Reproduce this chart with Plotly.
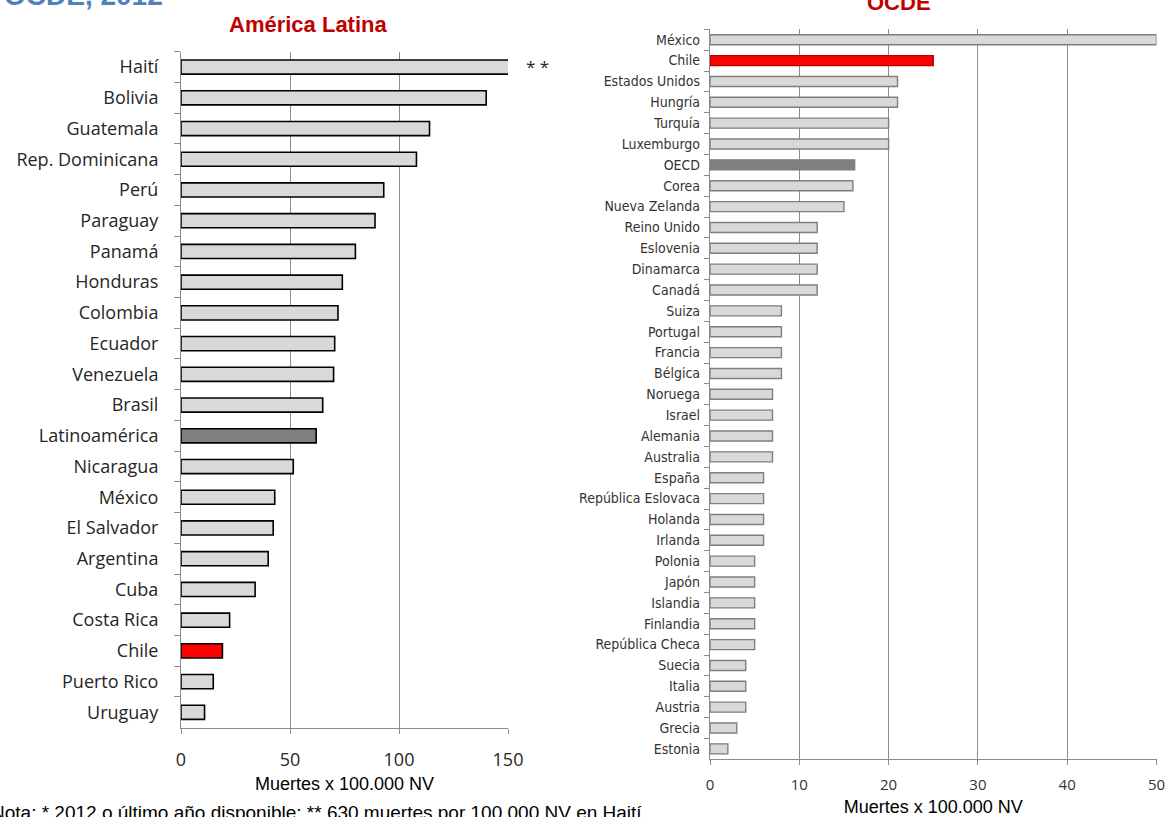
import plotly.graph_objects as go

# Latin America: deaths per 100,000 live births (top to bottom)
la_countries = ["Haití", "Bolivia", "Guatemala", "Rep. Dominicana", "Perú", "Paraguay",
                "Panamá", "Honduras", "Colombia", "Ecuador", "Venezuela", "Brasil",
                "Latinoamérica", "Nicaragua", "México", "El Salvador", "Argentina", "Cuba",
                "Costa Rica", "Chile", "Puerto Rico", "Uruguay"]
la_values = [630, 140, 114, 108, 93, 89, 80, 74, 72, 70.5, 70, 65,
             62, 51.5, 43, 42.3, 40, 34, 22.3, 19, 14.8, 10.8]

# OECD countries (top to bottom)
oecd_countries = ["México", "Chile", "Estados Unidos", "Hungría", "Turquía", "Luxemburgo",
                  "OECD", "Corea", "Nueva Zelanda", "Reino Unido", "Eslovenia", "Dinamarca",
                  "Canadá", "Suiza", "Portugal", "Francia", "Bélgica", "Noruega", "Israel",
                  "Alemania", "Australia", "España", "República Eslovaca", "Holanda", "Irlanda",
                  "Polonia", "Japón", "Islandia", "Finlandia", "República Checa", "Suecia",
                  "Italia", "Austria", "Grecia", "Estonia"]
oecd_values = [50, 25, 21, 21, 20, 20, 16.2, 16, 15, 12, 12, 12, 12, 8, 8, 8, 8, 7, 7,
               7, 7, 6, 6, 6, 6, 5, 5, 5, 5, 5, 4, 4, 4, 3, 2]

la_ticks = [0, 50, 100, 150]
oecd_ticks = [0, 10, 20, 30, 40, 50]

W, H = 1167, 817


def px(x):
    return x / W


def py(y):
    return 1 - y / H


def bar_fill(name, avg_name):
    if name == "Chile":
        return "#ff0000"
    if name == avg_name:
        return "#7f7f7f"
    return "#d9d9d9"


la_colors = [bar_fill(c, "Latinoamérica") for c in la_countries]
oecd_colors = [bar_fill(c, "OECD") for c in oecd_countries]
oecd_lines = ["#b00000" if c == "Chile" else "#7f7f7f" for c in oecd_countries]

fig = go.Figure()

fig.add_trace(go.Bar(
    x=la_values, y=la_countries, orientation="h", width=0.46,
    marker=dict(color=la_colors, line=dict(color="#000000", width=1.6)),
    xaxis="x", yaxis="y", showlegend=False, hoverinfo="x+y",
))

fig.add_trace(go.Bar(
    x=oecd_values, y=oecd_countries, orientation="h", width=0.48,
    marker=dict(color=oecd_colors, line=dict(color=oecd_lines, width=1.4)),
    xaxis="x2", yaxis="y2", showlegend=False, hoverinfo="x+y",
))

grid = "#8c8c8c"
label_font_la = dict(family="Open Sans, DejaVu Sans, sans-serif", size=18, color="#262626")
label_font_oecd = dict(family="Liberation Sans Narrow, DejaVu Sans Condensed, Roboto, sans-serif",
                       size=14, color="#333333")
title_font = dict(family="Liberation Sans, Arial, sans-serif", size=18, color="#000000")

fig.update_layout(
    width=W, height=H,
    margin=dict(l=0, r=0, t=0, b=0, autoexpand=False),
    paper_bgcolor="white", plot_bgcolor="white",
    xaxis=dict(
        domain=[px(181), px(508)], anchor="y", range=[0, 150], automargin=False,
        tickvals=la_ticks, showgrid=True, gridcolor=grid, gridwidth=1,
        zeroline=False, showline=True, linecolor=grid, linewidth=1,
        ticks="outside", ticklen=5, tickcolor=grid,
        tickfont=label_font_la, ticklabelstandoff=11,
        title=dict(text="Muertes x 100.000 NV", font=title_font, standoff=7),
    ),
    yaxis=dict(
        domain=[py(727.7), py(51.7)], anchor="x", autorange="reversed", automargin=False,
        type="category", showline=True, linecolor=grid, linewidth=1,
        ticks="outside", ticklen=6, tickcolor=grid, tickson="boundaries",
        tickfont=label_font_la, ticklabelstandoff=18, showgrid=False,
    ),
    xaxis2=dict(
        domain=[px(710), px(1156.5)], anchor="y2", range=[0, 50], automargin=False,
        tickvals=oecd_ticks, showgrid=True, gridcolor=grid, gridwidth=1.3,
        zeroline=False, showline=True, linecolor=grid, linewidth=1.3,
        ticks="outside", ticklen=5, tickcolor=grid, ticklabeloverflow="allow",
        tickfont=dict(family="Open Sans, DejaVu Sans, sans-serif", size=15, color="#333333"),
        ticklabelstandoff=7,
        title=dict(text="Muertes x 100.000 NV", font=title_font, standoff=9),
    ),
    yaxis2=dict(
        domain=[py(759.3), py(29.3)], anchor="x2", autorange="reversed", automargin=False,
        type="category", showline=True, linecolor=grid, linewidth=1.3,
        ticks="outside", ticklen=5, tickcolor=grid, tickson="boundaries",
        tickfont=label_font_oecd, ticklabelstandoff=6, showgrid=False,
    ),
    annotations=[
        dict(text="<b>América Latina</b>", xref="paper", yref="paper",
             x=px(308), y=py(24), xanchor="center", yanchor="middle", showarrow=False,
             font=dict(family="Liberation Sans, Arial, sans-serif", size=22, color="#c00000")),
        dict(text="<b>OCDE</b>", xref="paper", yref="paper",
             x=px(899), y=py(3), xanchor="center", yanchor="middle", showarrow=False,
             font=dict(family="Liberation Sans, Arial, sans-serif", size=22, color="#c00000")),
        dict(text="<b>OCDE, 2012</b>", xref="paper", yref="paper",
             x=px(2), y=py(-4), xanchor="left", yanchor="middle", showarrow=False,
             font=dict(family="Liberation Sans, Arial, sans-serif", size=28, color="#4f81bd")),
        dict(text="* *", xref="paper", yref="paper", x=px(537), y=py(67),
             xanchor="center", yanchor="middle", showarrow=False,
             font=dict(family="Open Sans, DejaVu Sans, sans-serif", size=17, color="#262626")),
        dict(text="Nota: * 2012 o último año disponible; ** 630 muertes por 100.000 NV en Haití",
             xref="paper", yref="paper", x=px(-11), y=py(812), xanchor="left", yanchor="middle",
             showarrow=False,
             font=dict(family="Liberation Sans, Arial, sans-serif", size=19, color="#000000")),
    ],
)

fig.write_html("out.html")
